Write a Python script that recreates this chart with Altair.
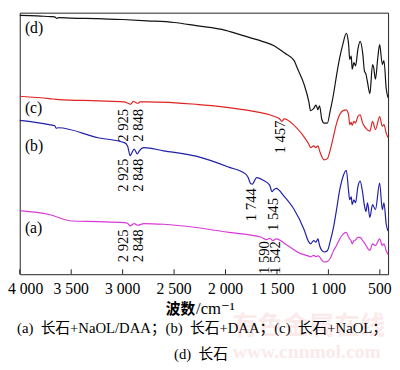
import altair as alt
import pandas as pd

# ---- spectra: wavenumber (cm-1) and transmittance (arbitrary units, offset) ----
d_wn = [4000, 3900, 3800, 3700, 3660, 3640, 3620, 3500, 3238, 3000, 2762, 2500, 2286, 2000,
        1810, 1650, 1524, 1429, 1333, 1305, 1238, 1190, 1174, 1155, 1143, 1121, 1110, 1102,
        1086, 1064, 1041, 1010, 984, 950, 921, 890, 857, 826, 810, 803, 793, 785, 778, 769,
        752, 736, 714, 692, 667, 650, 635, 620, 597, 571, 560, 543, 520, 502, 476, 460, 438, 420]
d_t = [264.3, 264.0, 263.5, 263.0, 262.7, 261.2, 262.0, 261.5, 261.0, 260.0, 258.7, 257.0, 253.7, 249.0,
       243.0, 238.0, 233.0, 226.0, 218.0, 211.0, 194.3, 176.0, 167.0, 168.0, 169.3, 172.7, 170.0, 168.0,
       172.0, 158.0, 154.3, 154.3, 166.0, 184.0, 203.0, 221.0, 236.0, 246.0, 240.0, 234.0, 219.3, 221.0, 222.7, 209.3,
       216.0, 212.7, 229.3, 237.7, 226.0, 207.7, 204.3, 196.0, 184.3, 214.0, 211.0, 199.0, 221.0, 234.3, 214.3, 218.0, 189.3, 180.0]

c_wn = [4000, 3714, 3619, 3238, 2990, 2943, 2925, 2895, 2876, 2852, 2829, 2762, 2286, 1810,
        1524, 1476, 1452, 1429, 1333, 1254, 1190, 1174, 1143, 1121, 1102, 1086, 1064, 1041,
        1010, 984, 950, 921, 890, 857, 826, 803, 793, 778, 769, 752, 736, 714, 692, 667,
        650, 635, 597, 571, 543, 502, 476, 460, 438, 420]
c_t = [181.7, 179.3, 178.3, 177.0, 176.0, 174.3, 173.5, 176.5, 175.5, 174.5, 176.0, 176.0, 173.5, 167.7,
       161.0, 158.7, 156.0, 158.5, 152.0, 142.7, 132.7, 129.3, 131.0, 129.3, 131.0, 126.0, 120.0, 116.7,
       118.0, 126.0, 141.0, 154.0, 163.0, 167.0, 167.7, 162.0, 152.7, 155.0, 152.0, 156.0, 154.3, 161.0, 162.7, 154.3,
       151.0, 149.0, 146.0, 156.0, 147.7, 161.0, 151.0, 152.7, 144.0, 139.3]

b_wn = [4000, 3714, 3660, 3645, 3625, 3238, 2984, 2952, 2927, 2910, 2888, 2857, 2838, 2794,
        2603, 2286, 1968, 1810, 1781, 1757, 1738, 1724, 1698, 1635, 1571, 1548, 1533, 1508,
        1429, 1333, 1238, 1190, 1174, 1143, 1121, 1102, 1086, 1064, 1041, 1010, 984, 950,
        921, 890, 857, 826, 803, 793, 778, 769, 752, 736, 714, 692, 667, 650, 635, 620,
        597, 571, 543, 502, 476, 460, 438, 420]
b_t = [157.0, 152.7, 151.5, 149.0, 149.5, 139.3, 134.3, 131.0, 121.0, 124.0, 127.7, 122.7, 126.0, 129.3,
       126.0, 120.5, 109.3, 102.7, 99.0, 92.7, 92.0, 94.3, 98.7, 96.0, 91.0, 84.3, 86.0, 87.7,
       79.3, 66.0, 46.0, 32.7, 31.0, 34.3, 32.7, 36.0, 29.3, 24.3, 22.7, 24.0, 33.0, 48.0,
       66.0, 86.0, 100.0, 106.0, 84.0, 76.0, 79.0, 71.0, 76.0, 73.0, 89.0, 95.0, 83.0, 70.0, 64.0, 73.0,
       58.0, 71.0, 66.0, 93.0, 66.0, 73.0, 51.0, 44.0]

a_wn = [4000, 3714, 3492, 3238, 2984, 2952, 2927, 2888, 2850, 2794, 2603, 2286, 1968, 1651,
        1603, 1571, 1540, 1508, 1397, 1270, 1190, 1174, 1143, 1121, 1102, 1086, 1064, 1041,
        1010, 984, 950, 921, 890, 857, 826, 803, 793, 778, 769, 752, 736, 714, 692, 667,
        650, 635, 597, 571, 543, 502, 476, 460, 438, 420]
a_t = [65.0, 61.0, 54.3, 53.7, 52.7, 52.0, 49.3, 51.7, 50.0, 51.7, 51.0, 47.7, 42.7, 37.7,
       35.3, 36.7, 34.3, 36.0, 29.3, 21.0, 18.5, 17.7, 19.3, 18.0, 18.7, 17.7, 14.3, 12.5,
       13.0, 16.0, 24.0, 29.3, 36.0, 41.0, 42.7, 37.7, 36.0, 34.0, 31.0, 34.3, 35.0, 37.7, 37.7, 34.3,
       32.0, 29.3, 24.3, 31.0, 29.3, 36.0, 29.3, 31.0, 24.0, 20.0]

series_names = ["a", "b", "c", "d"]
series_colors = ["#d83ad8", "#1f1fa8", "#e02424", "#111111"]

# curve labels
curve_labels = ["(a)", "(b)", "(c)", "(d)"]
curve_label_wn = [3950, 3950, 3950, 3950]
curve_label_t = [47.5, 131, 170, 251]

# peak annotations
ann_text = ["2 925", "2 848", "1 457", "2 925", "2 848", "1 744", "1 545", "2 925", "2 848", "1 590", "1 542"]
ann_wn = [2993, 2854, 1467, 2993, 2854, 1752, 1533, 2993, 2854, 1629, 1514]
ann_t = [152, 152, 140, 101, 101, 71, 61, 29, 29, 17, 17]

# axis ticks
tick_values = [4000, 3500, 3000, 2500, 2000, 1500, 1000, 500]
tick_labels = ["4 000", "3 500", "3 000", "2 500", "2 000", "1 500", "1 000", "500"]

caption1 = "(a)\u00a0 长石+NaOL/DAA；(b)\u00a0 长石+DAA；(c)\u00a0 长石+NaOL；"
caption2 = "(d)\u00a0 长石"

W, H = 376, 267
SERIF = "'Liberation Serif', 'Noto Sans CJK SC', serif"

rows = []
for name, wn, t in [("a", a_wn, a_t), ("b", b_wn, b_t), ("c", c_wn, c_t), ("d", d_wn, d_t)]:
    for w, v in zip(wn, t):
        rows.append({"series": name, "wn": w, "t": v})
spectra = pd.DataFrame(rows)

xs = alt.Scale(domain=[420, 4000], reverse=True, nice=False, zero=False)
ys = alt.Scale(domain=[0, 267], nice=False, zero=False)

lines = alt.Chart(spectra).mark_line(strokeWidth=1.2, interpolate="monotone").encode(
    x=alt.X("wn:Q", scale=xs, axis=None),
    y=alt.Y("t:Q", scale=ys, axis=None),
    color=alt.Color("series:N", scale=alt.Scale(domain=series_names, range=series_colors), legend=None),
    order=alt.Order("wn:Q", sort="descending"),
)

lab_df = pd.DataFrame({"label": curve_labels, "wn": curve_label_wn, "t": curve_label_t})
labels = alt.Chart(lab_df).mark_text(font=SERIF, fontSize=16, align="left", baseline="middle", color="black").encode(
    x=alt.X("wn:Q", scale=xs), y=alt.Y("t:Q", scale=ys), text="label:N")

ann_df = pd.DataFrame({"label": ann_text, "wn": ann_wn, "t": ann_t})
ann = alt.Chart(ann_df).mark_text(font=SERIF, fontSize=15, angle=270, align="center", baseline="middle", color="black").encode(
    x=alt.X("wn:Q", scale=xs), y=alt.Y("t:Q", scale=ys), text="label:N")

tick_df = pd.DataFrame({"v": tick_values, "label": tick_labels})
ticks = alt.Chart(tick_df).mark_rule(color="#222", strokeWidth=1).encode(
    x=alt.X("v:Q", scale=xs), y=alt.value(H - 5), y2=alt.value(H))
tick_text = alt.Chart(tick_df).transform_filter("datum.v != 4000").mark_text(
    font=SERIF, fontSize=16, baseline="middle", color="black").encode(
    x=alt.X("v:Q", scale=xs), y=alt.value(H + 15), text="label:N")
tick_text0 = alt.Chart(tick_df).transform_filter("datum.v == 4000").mark_text(
    font=SERIF, fontSize=16, baseline="middle", align="left", dx=-12, color="black").encode(
    x=alt.X("v:Q", scale=xs), y=alt.value(H + 15), text="label:N")

one = pd.DataFrame({"k": [0]})
wm1 = alt.Chart(one).mark_text(text="有色金属在线", font="'Noto Sans CJK SC'", fontWeight="bold", fontSize=26,
                               color="#fbeaea", align="center", baseline="middle").encode(
    x=alt.value(295), y=alt.value(320))
wm2 = alt.Chart(one).mark_text(text="www.cnnmol.com", font="'Liberation Serif'", fontWeight="bold", fontSize=20,
                               color="#fbeaea", align="center", baseline="middle").encode(
    x=alt.value(293), y=alt.value(347))

t1 = alt.Chart(one).mark_text(text="波数", font="'Noto Sans CJK SC'", fontWeight="bold", fontSize=15,
                              align="right", baseline="middle", color="black").encode(
    x=alt.value(179), y=alt.value(303))
t2 = alt.Chart(one).mark_text(text="/cm⁻¹", font="'Liberation Serif', 'DejaVu Serif', serif", fontSize=17,
                              align="left", baseline="middle", color="black").encode(
    x=alt.value(180), y=alt.value(303))

cap1 = alt.Chart(one).mark_text(text=caption1, font=SERIF, fontSize=15, align="center", baseline="middle",
                                color="black").encode(x=alt.value(186), y=alt.value(322.5))
cap2 = alt.Chart(one).mark_text(text=caption2, font=SERIF, fontSize=15, align="center", baseline="middle",
                                color="black").encode(x=alt.value(185), y=alt.value(349))

chart = alt.layer(
    wm1, wm2, lines, ticks, labels, ann, tick_text, tick_text0, t1, t2, cap1, cap2
).properties(
    width=W, height=H,
    padding={"left": 12, "top": 1, "right": 4, "bottom": 94},
    autosize=alt.AutoSizeParams(type="none"),
).configure_view(stroke="#222", strokeWidth=1)

chart.save("out.html", embed_options={"renderer": "svg", "actions": False})
